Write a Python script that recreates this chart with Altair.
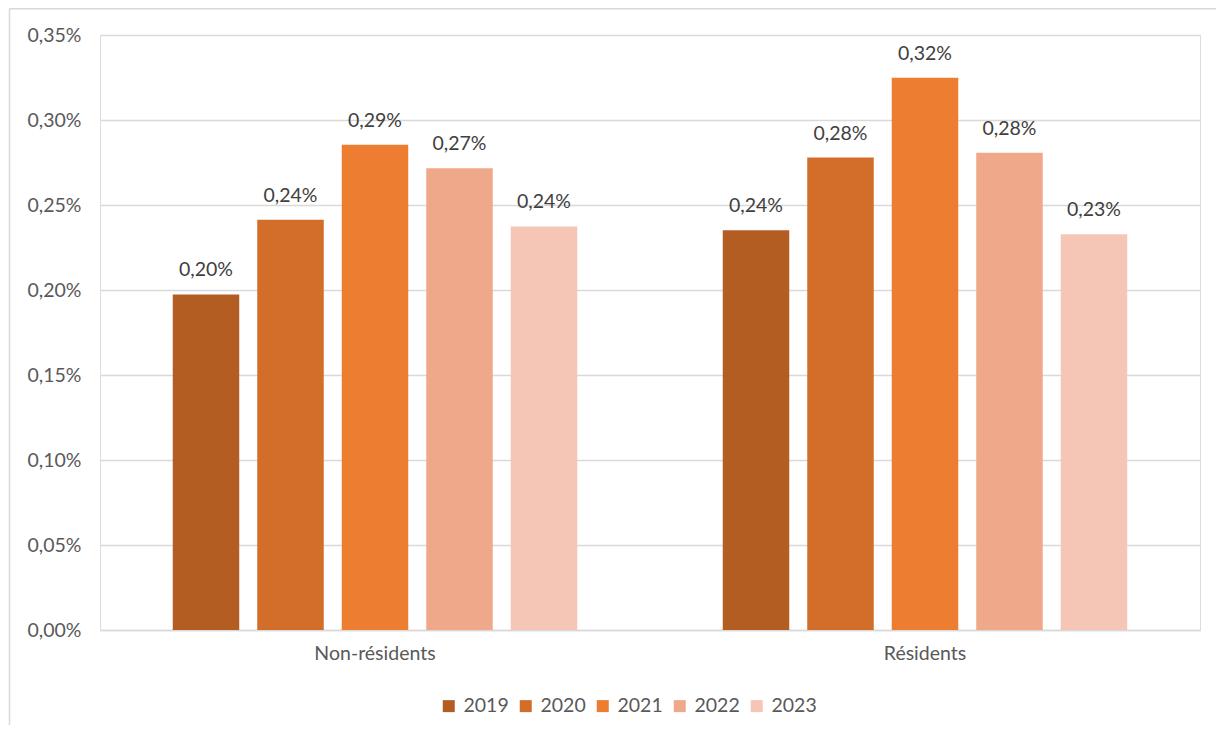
import altair as alt
import pandas as pd

categories = ["Non-résidents", "Résidents"]
years = ["2019", "2020", "2021", "2022", "2023"]
non_residents = [0.1974, 0.2413, 0.2854, 0.2716, 0.2374]
residents = [0.2352, 0.2779, 0.3248, 0.2807, 0.2328]
colors = ["#B45D22", "#D36D2A", "#ED7D31", "#F0A88A", "#F5C6B6"]
y_ticks = [0.0, 0.05, 0.10, 0.15, 0.20, 0.25, 0.30, 0.35]

rows = []
for cat, vals in zip(categories, [non_residents, residents]):
    for yr, v in zip(years, vals):
        rows.append({"cat": cat, "year": yr, "v": v})
df = pd.DataFrame(rows)

FONT = "Lato"
FS = 19.5

x_enc = alt.X("cat:N", sort=categories, title=None,
              scale=alt.Scale(paddingInner=0, paddingOuter=0),
              axis=alt.Axis(labelAngle=0, ticks=False, domain=True, domainColor="#D9D9D9",
                            domainWidth=1.5, labelPadding=14, labelFontSize=FS,
                            labelColor="#595959", labelFont=FONT, grid=False))
xo_enc = alt.XOffset("year:N", sort=years,
                     scale=alt.Scale(paddingInner=0.213, paddingOuter=0.861))
y_enc = alt.Y("v:Q", title=None,
              scale=alt.Scale(domain=[0, 0.35], nice=False),
              axis=alt.Axis(values=y_ticks, ticks=False, domain=False, grid=True,
                            gridColor="#D9D9D9", gridWidth=1.5, labelPadding=19,
                            labelFontSize=FS, labelColor="#595959", labelFont=FONT,
                            labelExpr="replace(format(datum.value, '.2f'), '.', ',') + '%'"))

base = alt.Chart(df)

bars = base.mark_bar().encode(
    x=x_enc,
    xOffset=xo_enc,
    y=y_enc,
    color=alt.Color("year:N", sort=years,
                    scale=alt.Scale(domain=years, range=colors),
                    legend=alt.Legend(title=None, orient="none", direction="horizontal",
                                      legendX=339, legendY=661, symbolType="square",
                                      symbolSize=144, symbolStrokeWidth=0,
                                      labelFontSize=FS, labelColor="#595959",
                                      labelFont=FONT, labelOffset=5, columnPadding=7)),
)

labels = base.transform_calculate(
    lbl="replace(format(datum.v, '.2f'), '.', ',') + '%'"
).mark_text(baseline="alphabetic", dy=-18, fontSize=FS, color="#404040", font=FONT).encode(
    x=alt.X("cat:N", sort=categories),
    xOffset=alt.XOffset("year:N", sort=years),
    y=alt.Y("v:Q"),
    text="lbl:N",
)

border_left = alt.Chart(pd.DataFrame({"a": [0]})).mark_rule(color="#D9D9D9", strokeWidth=1.5).encode(
    x=alt.value(-90.5), y=alt.value(-26.5), y2=alt.value(760)
)
border_top = alt.Chart(pd.DataFrame({"a": [0]})).mark_rule(color="#D9D9D9", strokeWidth=1.5).encode(
    x=alt.value(-90.5), x2=alt.value(1300), y=alt.value(-26.2)
)

chart = alt.layer(bars, labels, border_left, border_top).properties(
    width=1100, height=595,
    autosize=alt.AutoSizeParams(type="none"),
    padding={"left": 92, "top": 27, "right": 16, "bottom": 95},
).configure_view(stroke=None).configure(background="white")

chart.save("out.html", embed_options={"renderer": "svg", "actions": False})
